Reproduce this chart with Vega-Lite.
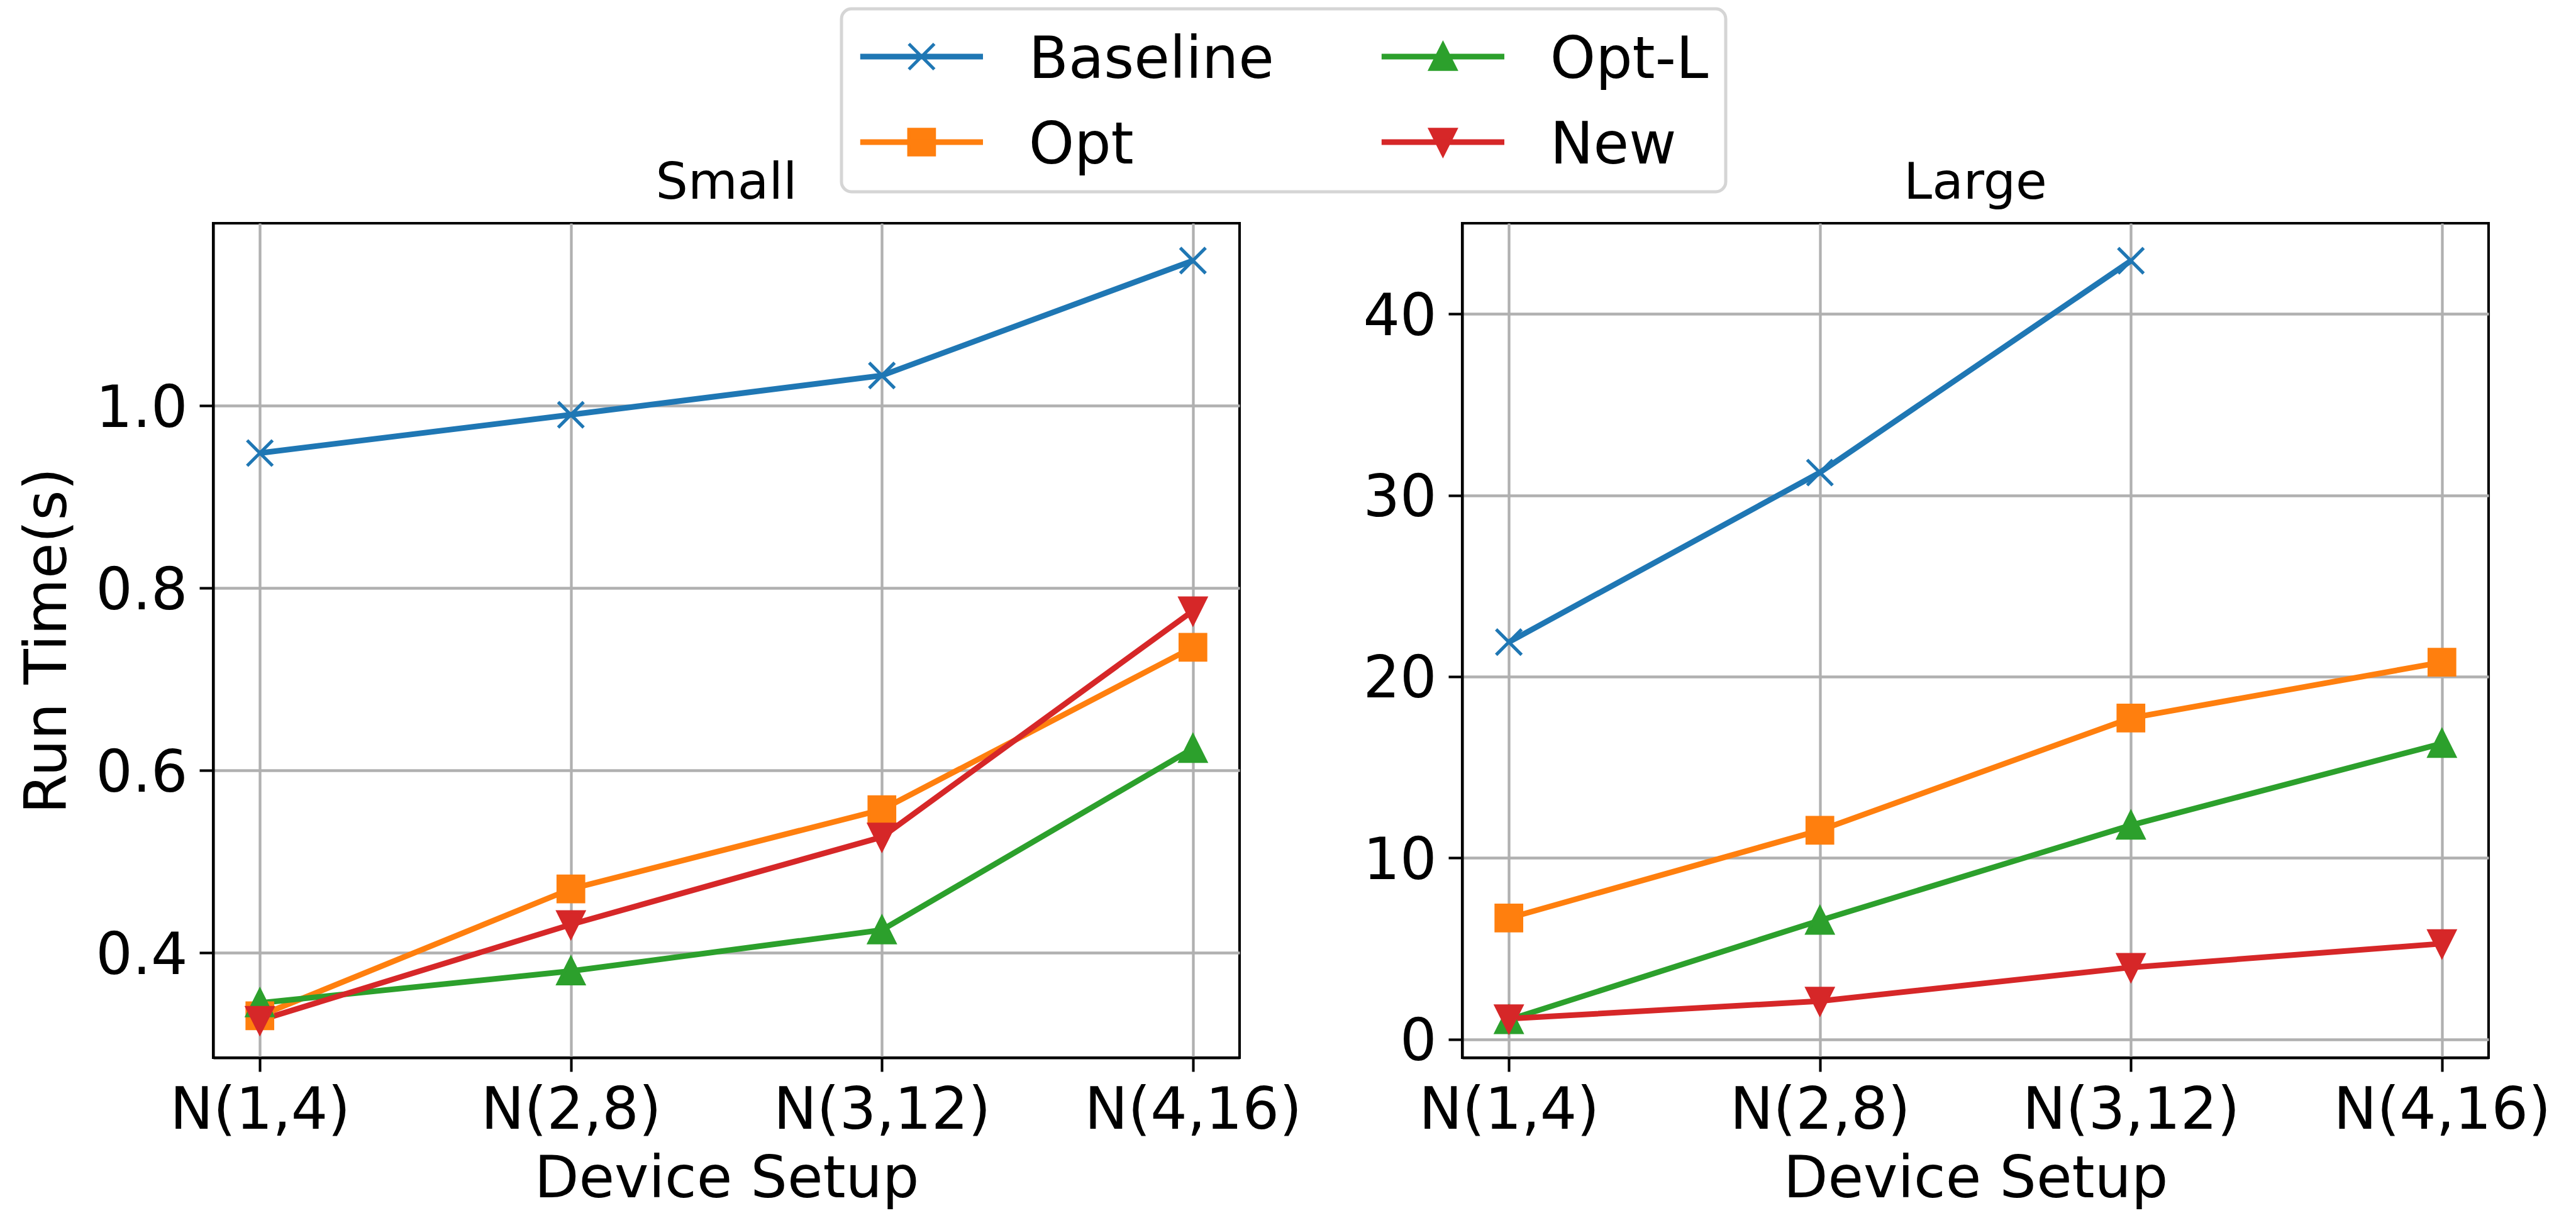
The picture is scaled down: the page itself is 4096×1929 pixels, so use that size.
{
  "$schema": "https://vega.github.io/schema/vega-lite/v6.json",
  "background": "white",
  "padding": {"left": 28, "top": 11, "right": 20, "bottom": 10},
  "bounds": "flush",
  "spacing": 354,
  "config": {
    "font": "DejaVu Sans",
    "view": {"stroke": "black", "strokeWidth": 4.1},
    "axis": {
      "labelFont": "DejaVu Sans", "labelFontSize": 92, "labelColor": "black", "labelLimit": 0,
      "titleFont": "DejaVu Sans", "titleFontSize": 92, "titleFontWeight": "normal", "titleColor": "black",
      "domainColor": "black", "domainWidth": 4.1,
      "tickColor": "black", "tickWidth": 4.1, "tickSize": 22,
      "gridColor": "#b0b0b0", "gridWidth": 4.3, "gridOpacity": 1,
      "labelPadding": 19
    },
    "axisX": {"labelAngle": 0, "labelPadding": 17, "titlePadding": 18},
    "axisY": {"titlePadding": 28, "labelOffset": 5},
    "title": {"font": "DejaVu Sans", "fontSize": 81, "fontWeight": "normal", "color": "black", "baseline": "alphabetic", "offset": 22, "anchor": "middle", "frame": "group"}
  },
  "datasets": {
    "small": [
      {"setup": "N(1,4)", "series": "Baseline", "time": 0.948},
      {"setup": "N(2,8)", "series": "Baseline", "time": 0.990},
      {"setup": "N(3,12)", "series": "Baseline", "time": 1.033},
      {"setup": "N(4,16)", "series": "Baseline", "time": 1.159},
      {"setup": "N(1,4)", "series": "Opt", "time": 0.331},
      {"setup": "N(2,8)", "series": "Opt", "time": 0.470},
      {"setup": "N(3,12)", "series": "Opt", "time": 0.557},
      {"setup": "N(4,16)", "series": "Opt", "time": 0.735},
      {"setup": "N(1,4)", "series": "Opt-L", "time": 0.345},
      {"setup": "N(2,8)", "series": "Opt-L", "time": 0.380},
      {"setup": "N(3,12)", "series": "Opt-L", "time": 0.425},
      {"setup": "N(4,16)", "series": "Opt-L", "time": 0.624},
      {"setup": "N(1,4)", "series": "New", "time": 0.326},
      {"setup": "N(2,8)", "series": "New", "time": 0.431},
      {"setup": "N(3,12)", "series": "New", "time": 0.527},
      {"setup": "N(4,16)", "series": "New", "time": 0.775}
    ],
    "large": [
      {"setup": "N(1,4)", "series": "Baseline", "time": 21.9},
      {"setup": "N(2,8)", "series": "Baseline", "time": 31.25},
      {"setup": "N(3,12)", "series": "Baseline", "time": 42.93},
      {"setup": "N(1,4)", "series": "Opt", "time": 6.68},
      {"setup": "N(2,8)", "series": "Opt", "time": 11.52},
      {"setup": "N(3,12)", "series": "Opt", "time": 17.71},
      {"setup": "N(4,16)", "series": "Opt", "time": 20.79},
      {"setup": "N(1,4)", "series": "Opt-L", "time": 1.07},
      {"setup": "N(2,8)", "series": "Opt-L", "time": 6.55},
      {"setup": "N(3,12)", "series": "Opt-L", "time": 11.8},
      {"setup": "N(4,16)", "series": "Opt-L", "time": 16.31},
      {"setup": "N(1,4)", "series": "New", "time": 1.13},
      {"setup": "N(2,8)", "series": "New", "time": 2.1},
      {"setup": "N(3,12)", "series": "New", "time": 3.96},
      {"setup": "N(4,16)", "series": "New", "time": 5.27}
    ]
  },
  "resolve": {"scale": {"color": "shared", "shape": "shared", "stroke": "shared"}},
  "hconcat": [
    {
      "title": "Small",
      "width": 1632,
      "height": 1327,
      "data": {"name": "small"},
      "encoding": {
        "x": {"field": "setup", "type": "ordinal", "sort": ["N(1,4)", "N(2,8)", "N(3,12)", "N(4,16)"],
              "scale": {"type": "point", "padding": 0.15},
              "axis": {"title": "Device Setup", "grid": true}},
        "y": {"field": "time", "type": "quantitative",
              "scale": {"domain": [0.285, 1.2], "nice": false, "zero": false},
              "axis": {"title": "Run Time(s)", "values": [0.4, 0.6, 0.8, 1.0], "format": ".1f", "grid": true}},
        "color": {"field": "series", "type": "nominal",
                  "scale": {"domain": ["Baseline", "Opt", "Opt-L", "New"], "range": ["#1f77b4", "#ff7f0e", "#2ca02c", "#d62728"]},
                  "legend": {
                    "orient": "none", "legendX": 999, "legendY": -341, "columns": 2, "title": null,
                    "symbolSize": 8464, "symbolOffset": 51.4, "labelOffset": 121.4,
                    "labelFont": "DejaVu Sans", "labelFontSize": 92, "labelColor": "black", "labelLimit": 0,
                    "padding": 27, "rowPadding": 35, "columnPadding": 163,
                    "strokeColor": "#d5d5d5", "fillColor": "white", "cornerRadius": 16,
                    "symbolStrokeWidth": 5.2,
                    "encode": {
                      "symbols": {"update": {
                        "shape": {"signal": "datum.value === 'Baseline' ? 'M-2.065,-0.04H2.065V0.04H-2.065ZM-0.44,-0.44L0.44,0.44M-0.44,0.44L0.44,-0.44' : datum.value === 'Opt' ? 'M-2.065,-0.04H2.065V0.04H-2.065ZM-0.44,-0.44H0.44V0.44H-0.44Z' : datum.value === 'Opt-L' ? 'M-2.065,-0.04H2.065V0.04H-2.065ZM0,-0.44L0.44,0.44L-0.44,0.44Z' : 'M-2.065,-0.04H2.065V0.04H-2.065ZM0,0.44L-0.44,-0.44L0.44,-0.44Z'"},
                        "stroke": {"signal": "datum.value === 'Baseline' ? '#1f77b4' : datum.value === 'Opt' ? '#ff7f0e' : datum.value === 'Opt-L' ? '#2ca02c' : '#d62728'"},
                        "strokeWidth": {"value": 5.2},
                        "opacity": {"value": 1}
                      }},
                      "labels": {"update": {"dy": {"value": 6}}},
                      "legend": {"update": {"strokeWidth": {"value": 5}}}
                    }
                  }}
      },
      "layer": [
        {"mark": {"type": "line", "strokeWidth": 9}},
        {"mark": {"type": "point", "filled": true, "opacity": 1, "size": 1640, "strokeWidth": 5.2},
         "encoding": {
           "shape": {"field": "series", "type": "nominal",
                     "scale": {"domain": ["New", "Opt-L", "Opt", "Baseline"], "range": ["M0,1L-1,-1L1,-1Z", "M0,-1L1,1L-1,1Z", "M-1,-1H1V1H-1Z", "M-1,-1L1,1M-1,1L1,-1"]},
                     "legend": null},
           "stroke": {"field": "series", "type": "nominal",
                      "scale": {"domain": ["Opt-L", "New", "Baseline", "Opt"], "range": ["#2ca02c", "#d62728", "#1f77b4", "#ff7f0e"]},
                      "legend": null}
         }}
      ]
    },
    {
      "title": "Large",
      "width": 1632,
      "height": 1327,
      "data": {"name": "large"},
      "encoding": {
        "x": {"field": "setup", "type": "ordinal", "sort": ["N(1,4)", "N(2,8)", "N(3,12)", "N(4,16)"],
              "scale": {"type": "point", "padding": 0.15},
              "axis": {"title": "Device Setup", "grid": true}},
        "y": {"field": "time", "type": "quantitative",
              "scale": {"domain": [-1.02, 45.0], "nice": false, "zero": false},
              "axis": {"title": null, "values": [0, 10, 20, 30, 40], "format": "d", "grid": true}},
        "color": {"field": "series", "type": "nominal",
                  "scale": {"domain": ["Baseline", "Opt", "Opt-L", "New"], "range": ["#1f77b4", "#ff7f0e", "#2ca02c", "#d62728"]}}
      },
      "layer": [
        {"mark": {"type": "line", "strokeWidth": 9}},
        {"mark": {"type": "point", "filled": true, "opacity": 1, "size": 1640, "strokeWidth": 5.2},
         "encoding": {
           "shape": {"field": "series", "type": "nominal",
                     "scale": {"domain": ["New", "Opt-L", "Opt", "Baseline"], "range": ["M0,1L-1,-1L1,-1Z", "M0,-1L1,1L-1,1Z", "M-1,-1H1V1H-1Z", "M-1,-1L1,1M-1,1L1,-1"]},
                     "legend": null},
           "stroke": {"field": "series", "type": "nominal",
                      "scale": {"domain": ["Opt-L", "New", "Baseline", "Opt"], "range": ["#2ca02c", "#d62728", "#1f77b4", "#ff7f0e"]},
                      "legend": null}
         }}
      ]
    }
  ]
}
